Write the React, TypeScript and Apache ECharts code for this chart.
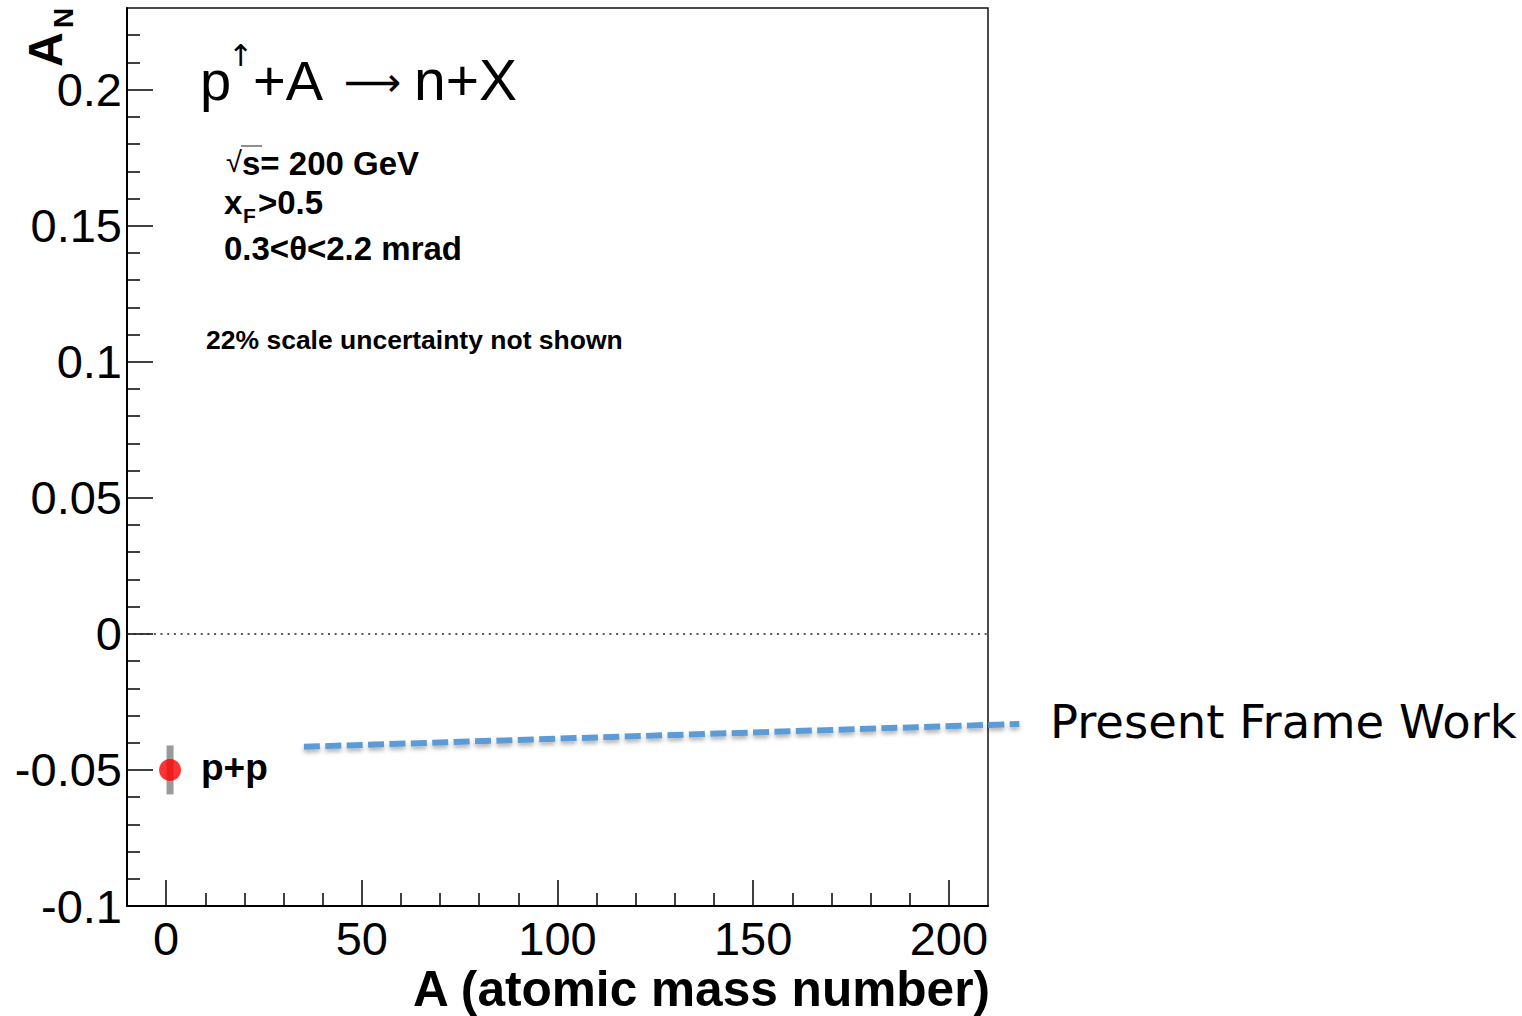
import React, { useEffect, useRef } from "react";
import * as echarts from "echarts";

// ---- data ----
const ppA = [1];
const ppAN = [-0.05];
const ppErr = [0.009];

// "Present Frame Work" annotation line (A, A_N)
const frameA = [35.2, 218.0];
const frameAN = [-0.0415, -0.0331];

// ---- axes ----
const xMajorTicks = [0, 50, 100, 150, 200];
const xMinorTicks = [10, 20, 30, 40, 60, 70, 80, 90, 110, 120, 130, 140, 160, 170, 180, 190];
const yMajorTicks = [-0.1, -0.05, 0, 0.05, 0.1, 0.15, 0.2];
const yMinorTicks = [
  -0.09, -0.08, -0.07, -0.06, -0.04, -0.03, -0.02, -0.01,
  0.01, 0.02, 0.03, 0.04, 0.06, 0.07, 0.08, 0.09,
  0.11, 0.12, 0.13, 0.14, 0.16, 0.17, 0.18, 0.19, 0.21, 0.22,
];
const yTickLabels = ["-0.1", "-0.05", "0", "0.05", "0.1", "0.15", "0.2"];
const xTickLabels = ["0", "50", "100", "150", "200"];

const FONT = "'Liberation Sans', Arial, Helvetica, sans-serif";

export default function App() {
  const ref = useRef<HTMLDivElement>(null);

  useEffect(() => {
    if (!ref.current) return;
    const chart = echarts.init(ref.current, null, { renderer: "svg" });

    const tickStyle = { color: "#000", width: 1.5 };

    const txt = (x: number, y: number, text: string, fontSize: number, extra: any = {}) => ({
      type: "text",
      x,
      y,
      style: {
        text,
        fontSize,
        fontFamily: FONT,
        fill: "#000",
        align: "left",
        verticalAlign: "middle",
        ...extra,
      },
    });

    const graphics: any[] = [
      // y-axis title A_N (rotated)
      {
        type: "group",
        x: 60,
        y: 67,
        rotation: Math.PI / 2,
        children: [
          txt(0, -15, "A", 48, { fontWeight: "bold" }),
          txt(39, 3, "N", 28, { fontWeight: "bold" }),
        ],
      },
      // title p↑+A → n+X
      txt(200, 80, "p", 56),
      txt(228, 54, "↑", 30, { fontFamily: "'Noto Sans', 'DejaVu Sans', sans-serif" }),
      txt(253, 80, "+A", 56),
      txt(344, 82, "⟶", 40, { fontFamily: "'DejaVu Sans', sans-serif" }),
      txt(414, 80, "n+X", 57),
      // √s = 200 GeV
      txt(226, 162, "√", 29),
      { type: "line", shape: { x1: 241, y1: 146, x2: 262, y2: 146 }, style: { stroke: "#444", lineWidth: 1.2 } },
      txt(242, 163, "s= 200 GeV", 33, { fontWeight: "bold" }),
      // x_F > 0.5
      txt(224, 202, "x", 33, { fontWeight: "bold" }),
      txt(243, 215, "F", 21, { fontWeight: "bold" }),
      txt(258, 202, ">0.5", 33, { fontWeight: "bold" }),
      // theta range
      txt(224, 248, "0.3<θ<2.2 mrad", 33, { fontWeight: "bold" }),
      // scale uncertainty
      txt(206, 340, "22% scale uncertainty not shown", 26.5, { fontWeight: "bold" }),
      // p+p label
      txt(201, 767, "p+p", 37, { fontWeight: "bold" }),
      // Present Frame Work
      txt(1050, 722, "Present Frame Work", 46.5, { fontFamily: "'DejaVu Sans', sans-serif" }),
      // x-axis title
      txt(990, 989, "A (atomic mass number)", 49.6, { fontWeight: "bold", align: "right" }),
    ];

    const option: any = {
      animation: false,
      backgroundColor: "#fff",
      grid: {
        left: 127,
        right: 534,
        top: 8,
        bottom: 110,
        show: true,
        borderColor: "#111",
        borderWidth: 1.5,
        backgroundColor: "transparent",
      },
      xAxis: [
        {
          type: "value",
          min: -10,
          max: 210,
          position: "bottom",
          axisLine: { show: true, onZero: false, lineStyle: { color: "#000", width: 2 } },
          axisTick: { show: true, inside: true, length: 26, customValues: xMajorTicks, lineStyle: tickStyle },
          axisLabel: {
            show: true,
            customValues: xMajorTicks,
            formatter: (v: number) => xTickLabels[xMajorTicks.indexOf(v)] ?? String(v),
            fontSize: 47,
            fontFamily: FONT,
            color: "#000",
            margin: 9,
          },
          splitLine: { show: false },
        },
        {
          type: "value",
          min: -10,
          max: 210,
          position: "bottom",
          axisLine: { show: false, onZero: false },
          axisTick: { show: true, inside: true, length: 13, customValues: xMinorTicks, lineStyle: tickStyle },
          axisLabel: { show: false },
          splitLine: { show: false },
        },
      ],
      yAxis: [
        {
          type: "value",
          min: -0.1,
          max: 0.23,
          position: "left",
          axisLine: { show: true, onZero: false, lineStyle: { color: "#000", width: 2 } },
          axisTick: { show: true, inside: true, length: 26, customValues: yMajorTicks, lineStyle: tickStyle },
          axisLabel: {
            show: true,
            customValues: yMajorTicks,
            formatter: (v: number) => yTickLabels[yMajorTicks.indexOf(v)] ?? String(v),
            fontSize: 47,
            fontFamily: FONT,
            color: "#000",
            margin: 5,
          },
          splitLine: { show: false },
        },
        {
          type: "value",
          min: -0.1,
          max: 0.23,
          position: "left",
          axisLine: { show: false, onZero: false },
          axisTick: { show: true, inside: true, length: 13, customValues: yMinorTicks, lineStyle: tickStyle },
          axisLabel: { show: false },
          splitLine: { show: false },
        },
      ],
      series: [
        {
          type: "custom",
          xAxisIndex: 0,
          yAxisIndex: 0,
          data: ppA.map((a, i) => [a, ppAN[i], ppErr[i]]),
          encode: { x: 0, y: 1 },
          z: 3,
          renderItem: (params: any, api: any) => {
            const x = api.value(0);
            const y = api.value(1);
            const e = api.value(2);
            const top = api.coord([x, y + e]);
            const bot = api.coord([x, y - e]);
            return {
              type: "rect",
              shape: { x: top[0] - 3.5, y: top[1], width: 7, height: bot[1] - top[1] },
              style: { fill: "#9a9a9a" },
            };
          },
        },
        {
          type: "scatter",
          xAxisIndex: 0,
          yAxisIndex: 0,
          z: 4,
          symbol: "circle",
          symbolSize: 22,
          itemStyle: { color: "#ff0000" },
          data: ppA.map((a, i) => [a, ppAN[i]]),
          markLine: {
            silent: true,
            symbol: ["none", "none"],
            label: { show: false },
            lineStyle: { type: [2, 4.7], color: "#222", width: 1.5 },
            data: [{ yAxis: 0 }],
          },
        },
      ],
      graphic: graphics,
    };

    chart.setOption(option);

    // annotation dashed line, positioned through the chart's own scales
    const p1 = chart.convertToPixel({ xAxisIndex: 0, yAxisIndex: 0 }, [frameA[0], frameAN[0]]) as number[];
    const p2 = chart.convertToPixel({ xAxisIndex: 0, yAxisIndex: 0 }, [frameA[1], frameAN[1]]) as number[];
    chart.setOption({
      graphic: [
        ...graphics,
        {
          type: "line",
          z: 10,
          shape: { x1: p1[0], y1: p1[1], x2: p2[0], y2: p2[1] },
          style: {
            stroke: "#5b9bd5",
            lineWidth: 6,
            lineDash: [16, 5.4],
            shadowColor: "rgba(0,0,0,0.3)",
            shadowBlur: 4,
            shadowOffsetY: 3,
          },
        },
      ],
    });

    return () => chart.dispose();
  }, []);

  return (
    <div
      ref={ref}
      style={{ position: "absolute", left: 0, top: 0, width: "1522px", height: "1016px", background: "#fff" }}
    />
  );
}
